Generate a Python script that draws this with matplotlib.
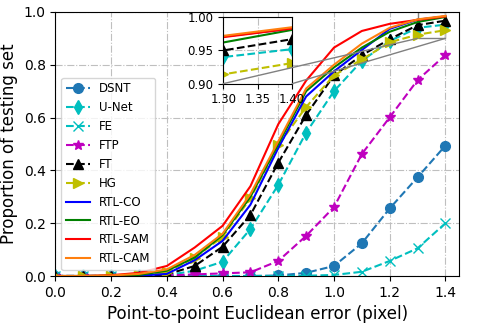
import matplotlib
matplotlib.use("Agg")
import matplotlib.pyplot as plt
from matplotlib.patches import Rectangle, ConnectionPatch

x = [0.0, 0.1, 0.2, 0.3, 0.4, 0.5, 0.6, 0.7, 0.8, 0.9, 1.0, 1.1, 1.2, 1.3, 1.4]
dsnt = [0, 0, 0, 0, 0, 0, 0, 0, 0.002, 0.012, 0.038, 0.124, 0.256, 0.374, 0.494]
unet = [0, 0, 0, 0, 0.003, 0.02, 0.054, 0.178, 0.345, 0.543, 0.70, 0.815, 0.89, 0.94, 0.952]
fe = [0, 0, 0, 0, 0, 0, 0, 0, 0, 0.001, 0.004, 0.016, 0.057, 0.105, 0.2]
ftp = [0, 0, 0, 0, 0.002, 0.006, 0.01, 0.014, 0.057, 0.152, 0.261, 0.462, 0.601, 0.742, 0.837]
ft = [0, 0, 0, 0, 0.006, 0.038, 0.111, 0.231, 0.429, 0.61, 0.76, 0.836, 0.897, 0.95, 0.967]
hg = [0, 0, 0, 0.002, 0.015, 0.07, 0.148, 0.294, 0.496, 0.64, 0.76, 0.82, 0.885, 0.914, 0.931]
rtl_co = [0, 0, 0, 0.001, 0.008, 0.06, 0.133, 0.27, 0.485, 0.68, 0.775, 0.856, 0.936, 0.971, 0.983]
rtl_eo = [0, 0, 0.001, 0.004, 0.02, 0.07, 0.155, 0.30, 0.50, 0.70, 0.79, 0.865, 0.925, 0.962, 0.981]
rtl_sam = [0, 0, 0.003, 0.012, 0.038, 0.108, 0.19, 0.34, 0.575, 0.74, 0.865, 0.928, 0.955, 0.97, 0.983]
rtl_cam = [0, 0, 0.002, 0.008, 0.025, 0.08, 0.16, 0.31, 0.51, 0.71, 0.80, 0.88, 0.94, 0.972, 0.985]

labels = ["DSNT", "U-Net", "FE", "FTP", "FT", "HG", "RTL-CO", "RTL-EO", "RTL-SAM", "RTL-CAM"]
series = [dsnt, unet, fe, ftp, ft, hg, rtl_co, rtl_eo, rtl_sam, rtl_cam]
styles = [
    dict(color="#1f77b4", ls="--", marker="o"),
    dict(color="c", ls="--", marker="d"),
    dict(color="c", ls="--", marker="x"),
    dict(color="m", ls="--", marker="*"),
    dict(color="k", ls="--", marker="^"),
    dict(color="y", ls="--", marker=">"),
    dict(color="b", ls="-"),
    dict(color="g", ls="-"),
    dict(color="r", ls="-"),
    dict(color="#ff7f0e", ls="-"),
]

fig = plt.figure(figsize=(4.79, 3.23), dpi=100)
ax = fig.add_axes([0.1157, 0.1455, 0.8433, 0.8175])
for y, lab, st in zip(series, labels, styles):
    ax.plot(x, y, label=lab, lw=1.5, ms=7, **st)
ax.set_xlim(0, 1.45)
ax.set_ylim(0, 1.0)
ax.set_xticks([0.0, 0.2, 0.4, 0.6, 0.8, 1.0, 1.2, 1.4])
ax.set_yticks([0.0, 0.2, 0.4, 0.6, 0.8, 1.0])
ax.tick_params(labelsize=10)
ax.grid(True, ls="-.", color="0.75", lw=0.8)
ax.set_xlabel("Point-to-point Euclidean error (pixel)", fontsize=12)
ax.set_ylabel("Proportion of testing set", fontsize=12)
ax.legend(loc="lower left", fontsize=8.5)

axins = fig.add_axes([0.466, 0.741, 0.144, 0.2056])
for y, lab, st in zip(series, labels, styles):
    axins.plot(x, y, lw=1.5, ms=7, **st)
axins.set_xlim(1.3, 1.4)
axins.set_ylim(0.9, 1.0)
axins.set_xticks([1.30, 1.35, 1.40])
axins.set_yticks([0.90, 0.95, 1.00])
axins.set_xticklabels(["1.30", "1.35", "1.40"])
axins.set_yticklabels(["0.90", "0.95", "1.00"])
axins.tick_params(labelsize=8.5)
axins.grid(True, ls="-.", color="0.75", lw=0.8)

ax.add_patch(Rectangle((1.3, 0.9), 0.1, 0.1, fill=False, ec="0.5", lw=1))
for xc in (1.3, 1.4):
    cp = ConnectionPatch(xyA=(xc, 0.9), coordsA=axins.transData,
                         xyB=(xc, 0.9), coordsB=ax.transData,
                         color="0.5", lw=1)
    fig.add_artist(cp)

fig.savefig("out.png", dpi=100)
